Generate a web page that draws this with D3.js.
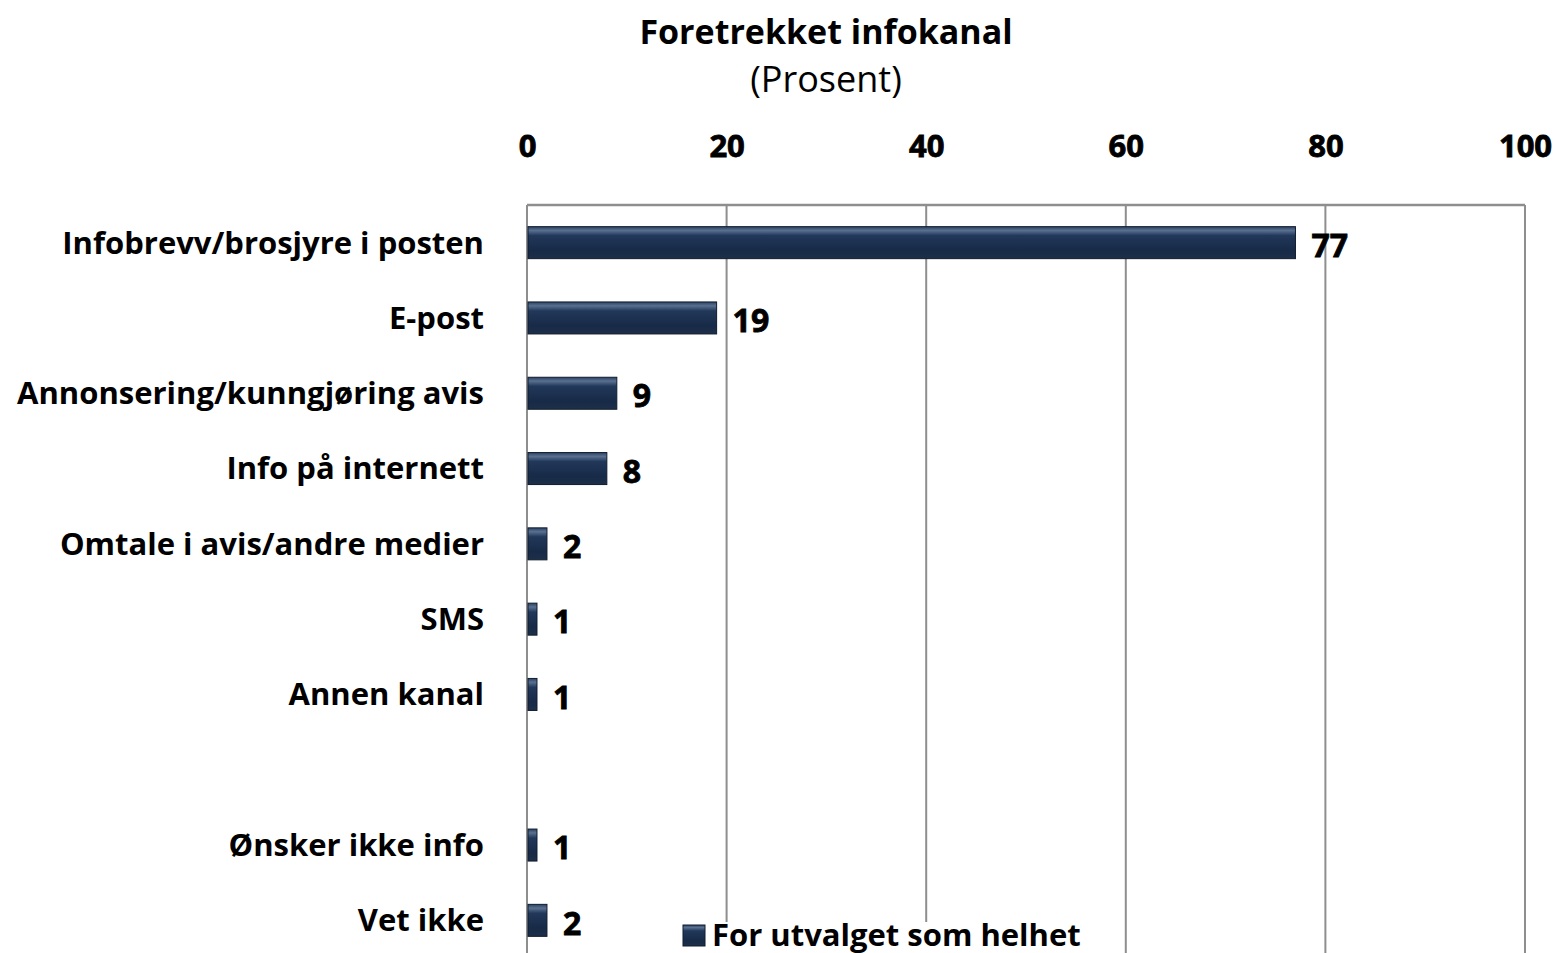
<!DOCTYPE html>
<html>
<head>
<meta charset="utf-8">
<script src="https://cdnjs.cloudflare.com/ajax/libs/d3/7.8.5/d3.min.js"></script>
<style>
    body { margin: 0; background: #fff; }
    svg { display: block; font-family: "Open Sans", "DejaVu Sans", sans-serif; }
</style>
</head>
<body>
<svg id="chart" width="1555" height="953"></svg>
<script>
// chart data
var categories = [
    "Infobrevv/brosjyre i posten",
    "E-post",
    "Annonsering/kunngjøring avis",
    "Info på internett",
    "Omtale i avis/andre medier",
    "SMS",
    "Annen kanal",
    "",
    "Ønsker ikke info",
    "Vet ikke"
];
var values = [77, 19, 9, 8, 2, 1, 1, null, 1, 2];
var tickValues = [0, 20, 40, 60, 80, 100];
var seriesName = "For utvalget som helhet";
var chartTitle = "Foretrekket infokanal";
var chartSubtitle = "(Prosent)";

var svg = d3.select("#chart");

var plotLeft = 527, plotRight = 1525, plotTop = 205;
var step = 75.3;
var plotBottom = plotTop + step * (categories.length + 1);

var x = d3.scaleLinear().domain([0, 100]).range([plotLeft, plotRight]);

// the empty category "" leaves the blank slot before the last two rows
var keys = categories.map(function(c, i) { return "k" + i; });
var y = d3.scaleBand()
    .domain(keys)
    .range([plotTop, plotTop + step * keys.length])
    .paddingInner(0.575)
    .paddingOuter(0.2875);

var rows = categories.map(function(c, i) {
    return { name: c, value: values[i], key: "k" + i };
}).filter(function(d) { return d.value !== null; });

var defs = svg.append("defs");
var grad = defs.append("linearGradient")
    .attr("id", "barGrad").attr("x1", 0).attr("y1", 0).attr("x2", 0).attr("y2", 1);
grad.append("stop").attr("offset", "0%").attr("stop-color", "#2c4263");
grad.append("stop").attr("offset", "12%").attr("stop-color", "#5a7091");
grad.append("stop").attr("offset", "28%").attr("stop-color", "#22385a");
grad.append("stop").attr("offset", "75%").attr("stop-color", "#172a47");
grad.append("stop").attr("offset", "100%").attr("stop-color", "#1d2f48");

// plot frame and gridlines
svg.append("g")
    .selectAll("line")
    .data(tickValues)
    .enter().append("line")
    .attr("x1", function(d) { return x(d); })
    .attr("x2", function(d) { return x(d); })
    .attr("y1", plotTop)
    .attr("y2", plotBottom)
    .attr("stroke", "#8e8e8e")
    .attr("stroke-width", 2);

svg.append("line")
    .attr("x1", plotLeft).attr("x2", plotRight)
    .attr("y1", plotTop).attr("y2", plotTop)
    .attr("stroke", "#8e8e8e")
    .attr("stroke-width", 2.5);

// top axis
var axis = d3.axisTop(x).tickValues(tickValues).tickSize(0).tickPadding(0);
var gAxis = svg.append("g")
    .attr("transform", "translate(0,157)")
    .call(axis);
gAxis.select(".domain").remove();
gAxis.selectAll("text")
    .attr("font-size", 31)
    .attr("font-weight", "bold")
    .attr("fill", "#000")
    .attr("stroke", "#000")
    .attr("stroke-width", 0.8)
    .attr("font-family", "\"Open Sans\", sans-serif");

// bars
svg.append("g")
    .selectAll("rect")
    .data(rows)
    .enter().append("rect")
    .attr("x", x(0) + 1)
    .attr("y", function(d) { return y(d.key); })
    .attr("width", function(d) { return x(d.value) - x(0) - 1; })
    .attr("height", y.bandwidth())
    .attr("fill", "url(#barGrad)")
    .attr("stroke", "#101c2e")
    .attr("stroke-width", 1);

// value labels
svg.append("g")
    .selectAll("text")
    .data(rows)
    .enter().append("text")
    .attr("x", function(d) { return x(d.value) + 16; })
    .attr("y", function(d) { return y(d.key) + y.bandwidth() / 2 + 3; })
    .attr("dy", "0.35em")
    .attr("font-size", 32)
    .attr("font-weight", "bold")
    .attr("stroke", "#000")
    .attr("stroke-width", 0.8)
    .text(function(d) { return d.value; });

// category labels
svg.append("g")
    .selectAll("text")
    .data(rows)
    .enter().append("text")
    .attr("x", 484)
    .attr("y", function(d) { return y(d.key) + y.bandwidth() / 2; })
    .attr("dy", "0.35em")
    .attr("text-anchor", "end")
    .attr("font-size", 31)
    .attr("font-weight", "bold")
    .text(function(d) { return d.name; });

// title
svg.append("text")
    .attr("x", 826).attr("y", 44)
    .attr("text-anchor", "middle")
    .attr("font-size", 34)
    .attr("font-weight", "bold")
    .text(chartTitle);
svg.append("text")
    .attr("x", 826).attr("y", 92)
    .attr("text-anchor", "middle")
    .attr("font-size", 36)
    .text(chartSubtitle);

// legend
var legend = svg.append("g");
legend.append("rect")
    .attr("x", 676).attr("y", 922)
    .attr("width", 430).attr("height", 40)
    .attr("fill", "#fff");
legend.append("rect")
    .attr("x", 683).attr("y", 925)
    .attr("width", 22).attr("height", 21)
    .attr("fill", "url(#barGrad)")
    .attr("stroke", "#101c2e");
legend.append("text")
    .attr("x", 712).attr("y", 946)
    .attr("font-size", 31)
    .attr("font-weight", "bold")
    .text(seriesName);
</script>
</body>
</html>
